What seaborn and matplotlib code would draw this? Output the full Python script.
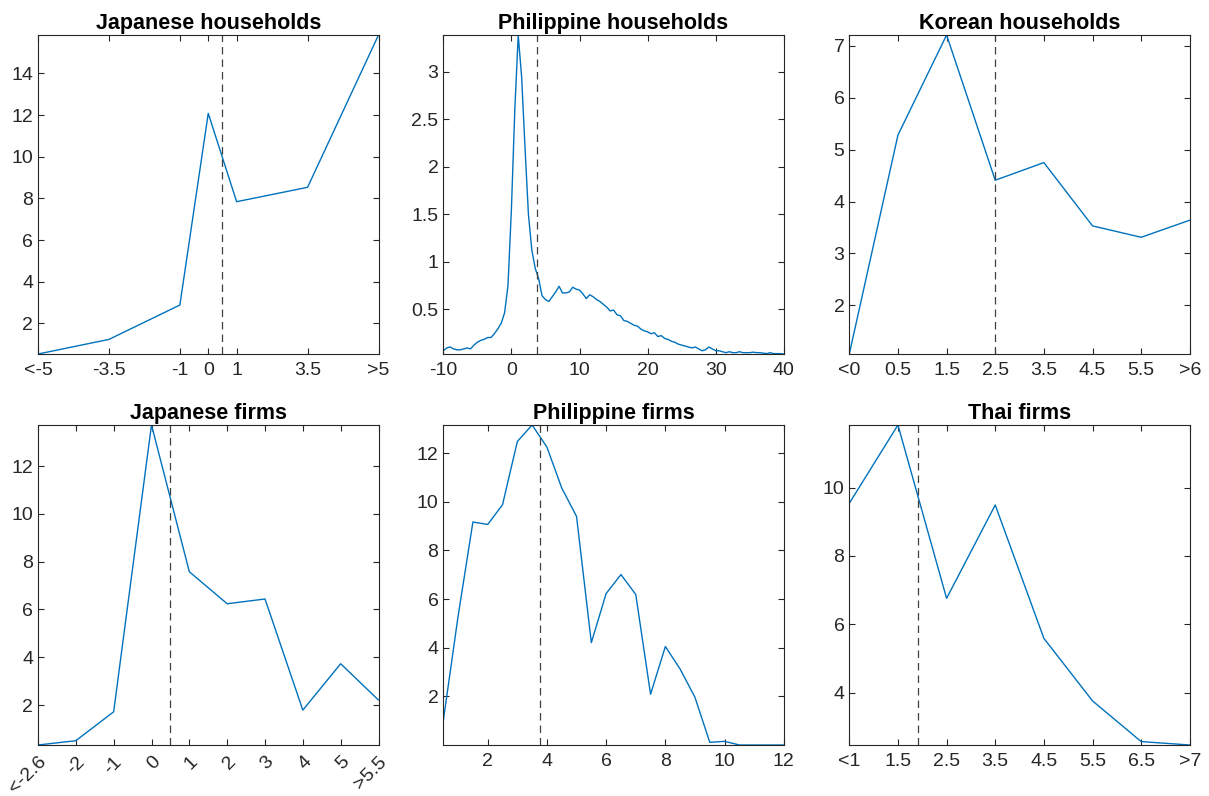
import numpy as np
import pandas as pd
import seaborn as sns
import matplotlib.pyplot as plt
from matplotlib.ticker import FuncFormatter

# Japanese households
jp_hh_x = [-6, -3.5, -1, 0, 1, 3.5, 6]
jp_hh_y = [0.53, 1.23, 2.88, 12.08, 7.84, 8.53, 15.84]
jp_hh_labels = ['<-5', '-3.5', '-1', '0', '1', '3.5', '>5']

# Philippine households (step 0.5 from -10 to 40)
ph_hh_x = np.arange(-10, 40.5, 0.5)
ph_hh_y = [0.06, 0.09, 0.10, 0.08, 0.07, 0.07, 0.08, 0.09, 0.08, 0.12,
           0.15, 0.17, 0.18, 0.20, 0.20, 0.24, 0.29, 0.35, 0.46, 0.75,
           1.55, 2.60, 3.39, 2.95, 2.20, 1.50, 1.12, 0.93, 0.82, 0.64,
           0.60, 0.58, 0.63, 0.68, 0.74, 0.67, 0.67, 0.68, 0.73, 0.71,
           0.70, 0.66, 0.61, 0.65, 0.63, 0.60, 0.58, 0.55, 0.52, 0.48,
           0.49, 0.44, 0.43, 0.38, 0.37, 0.35, 0.33, 0.32, 0.29, 0.27,
           0.26, 0.24, 0.25, 0.21, 0.22, 0.19, 0.18, 0.16, 0.15, 0.13,
           0.12, 0.11, 0.10, 0.09, 0.10, 0.08, 0.06, 0.07, 0.10, 0.08,
           0.06, 0.06, 0.05, 0.04, 0.05, 0.04, 0.04, 0.05, 0.04, 0.04,
           0.04, 0.045, 0.04, 0.04, 0.035, 0.03, 0.04, 0.03, 0.03, 0.03,
           0.026]

# Korean households
kr_hh_x = [-0.5, 0.5, 1.5, 2.5, 3.5, 4.5, 5.5, 6.5]
kr_hh_y = [1.06, 5.28, 7.21, 4.41, 4.75, 3.53, 3.31, 3.64]
kr_hh_labels = ['<0', '0.5', '1.5', '2.5', '3.5', '4.5', '5.5', '>6']

# Japanese firms
jp_f_x = [-3, -2, -1, 0, 1, 2, 3, 4, 5, 6]
jp_f_y = [0.33, 0.51, 1.72, 13.72, 7.58, 6.24, 6.44, 1.79, 3.73, 2.21]
jp_f_labels = ['<-2.6', '-2', '-1', '0', '1', '2', '3', '4', '5', '>5.5']

# Philippine firms
ph_f_x = np.arange(0.5, 12.5, 0.5)
ph_f_y = [1.0, 5.3, 9.17, 9.07, 9.88, 12.48, 13.16, 12.25, 10.57, 9.40,
          4.21, 6.23, 7.01, 6.19, 2.09, 4.05, 3.12, 1.96, 0.11, 0.15,
          0.0, 0.0, 0.0, 0.0]

# Thai firms
th_f_x = [0.5, 1.5, 2.5, 3.5, 4.5, 5.5, 6.5, 7.5]
th_f_y = [9.54, 11.83, 6.76, 9.49, 5.59, 3.76, 2.57, 2.47]
th_f_labels = ['<1', '1.5', '2.5', '3.5', '4.5', '5.5', '6.5', '>7']

sns.set_theme(style='white')
plt.rcParams['font.family'] = ['Liberation Sans', 'DejaVu Sans']

panels = [
    ('Japanese households', jp_hh_x, jp_hh_y, 0.5, jp_hh_x, jp_hh_labels, [2, 4, 6, 8, 10, 12, 14], 0),
    ('Philippine households', ph_hh_x, ph_hh_y, 3.7, [-10, 0, 10, 20, 30, 40], None, [0.5, 1, 1.5, 2, 2.5, 3], 0),
    ('Korean households', kr_hh_x, kr_hh_y, 2.5, kr_hh_x, kr_hh_labels, [2, 3, 4, 5, 6, 7], 0),
    ('Japanese firms', jp_f_x, jp_f_y, 0.48, jp_f_x, jp_f_labels, [2, 4, 6, 8, 10, 12], 45),
    ('Philippine firms', ph_f_x, ph_f_y, 3.75, [2, 4, 6, 8, 10, 12], None, [2, 4, 6, 8, 10, 12], 0),
    ('Thai firms', th_f_x, th_f_y, 1.92, th_f_x, th_f_labels, [4, 6, 8, 10], 0),
]

W, H = 1209, 796
lefts = [38, 443.3, 849.3]
tops = [35, 425]
heights = [319, 320]
width = 340.5

fig = plt.figure(figsize=(12.09, 7.96), dpi=100)
fmt = FuncFormatter(lambda v, p: '{:g}'.format(v))

for i, (title, x, y, vline, xt, xl, yt, rot) in enumerate(panels):
    r, c = divmod(i, 3)
    ax = fig.add_axes([lefts[c] / W, 1 - (tops[r] + heights[r]) / H, width / W, heights[r] / H])
    df = pd.DataFrame({'x': x, 'y': y})
    sns.lineplot(data=df, x='x', y='y', ax=ax, color='#0072BD', linewidth=1.0)
    ax.axvline(vline, color='#404040', linestyle=(0, (6, 4)), linewidth=0.9)
    ax.set_xlim(min(x), max(x))
    ax.set_ylim(min(y), max(y))
    ax.set_xticks(xt)
    if xl is not None:
        ax.set_xticklabels(xl)
    else:
        ax.xaxis.set_major_formatter(fmt)
    ax.set_yticks(yt)
    ax.yaxis.set_major_formatter(fmt)
    ax.set_xlabel('')
    ax.set_ylabel('')
    ax.set_title(title, fontsize=15.5, fontweight='bold', color='black', pad=4)
    ax.tick_params(direction='in', length=4, width=0.8, colors='#262626',
                   labelsize=14, top=True, right=True, bottom=True, left=True)
    ax.tick_params(axis='x', pad=6)
    if rot:
        for lab in ax.get_xticklabels():
            lab.set_rotation(rot)
            lab.set_ha('right')
            lab.set_rotation_mode('anchor')
    for s in ax.spines.values():
        s.set_color('#262626')
        s.set_linewidth(0.8)

plt.savefig('out.png', dpi=100)
